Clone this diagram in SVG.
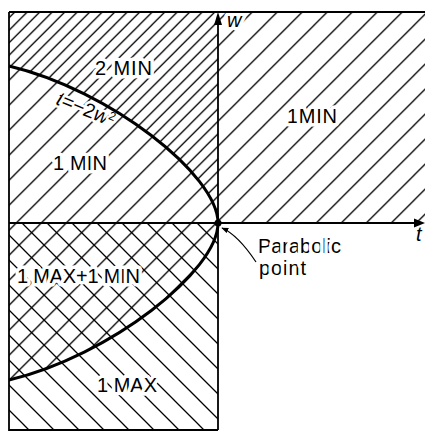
<svg xmlns="http://www.w3.org/2000/svg" width="425" height="432" viewBox="0 0 425 432">
<style>
.ln{stroke:#000;fill:none}
.lbl{font-family:"Liberation Sans",Arial,Helvetica,sans-serif;font-size:20px;fill:#000;stroke:#fff;stroke-width:7px;paint-order:stroke;stroke-linejoin:round}
.it{font-style:italic}
</style>
<defs>
<pattern id="fwd" patternUnits="userSpaceOnUse" x="14.3" y="0" width="25" height="25">
<path d="M-5,5 L5,-5 M0,25 L25,0 M20,30 L30,20" stroke="#000" stroke-width="1.3"/>
</pattern>
<pattern id="fwd2" patternUnits="userSpaceOnUse" x="1.8" y="0" width="25" height="25">
<path d="M-5,5 L5,-5 M0,25 L25,0 M20,30 L30,20" stroke="#000" stroke-width="1.3"/>
</pattern>
<pattern id="back" patternUnits="userSpaceOnUse" x="24" y="0" width="25" height="25">
<path d="M-5,20 L5,30 M0,0 L25,25 M20,-5 L30,5" stroke="#000" stroke-width="1.3"/>
</pattern>
<marker id="ah" viewBox="0 0 10 10" refX="9" refY="5" markerWidth="7" markerHeight="7" markerUnits="userSpaceOnUse" orient="auto">
<path d="M0,1 L10,5 L0,9 Z" fill="#000"/>
</marker>
</defs>
<rect width="425" height="432" fill="#fff"/>
<g id="regions">
<rect id="upper-min" x="9" y="12" width="416" height="211" fill="url(#fwd)"/>
<path id="two-min-extra" d="M9,12 H218 V223 C218,175 110,90 9,66 Z" fill="url(#fwd2)"/>
<rect id="lower-max" x="9" y="223" width="209" height="207" fill="url(#back)"/>
<path id="lower-min" d="M9,223 H218 C218,271 110,356 9,380 Z" fill="url(#fwd)"/>
</g>
<g id="labels">
<text class="lbl" x="95" y="75" textLength="57" lengthAdjust="spacing">2 MIN</text>
<text class="lbl" x="53" y="170" textLength="54" lengthAdjust="spacing">1 MIN</text>
<text class="lbl" x="287" y="123" textLength="50" lengthAdjust="spacing">1MIN</text>
<text class="lbl" x="17" y="283" textLength="123" lengthAdjust="spacing">1 MAX+1 MIN</text>
<text class="lbl" x="97" y="392" textLength="60" lengthAdjust="spacing">1 MAX</text>
<text class="lbl" x="258" y="253" font-size="18" textLength="83" lengthAdjust="spacing">Parabolic</text>
<text class="lbl" x="259" y="274.5" font-size="18" textLength="47" lengthAdjust="spacing">point</text>
<text class="lbl it" x="227" y="27" font-size="19">w</text>
<text class="lbl it" x="416" y="241">t</text>
<text class="lbl" x="55" y="104" font-size="17" style="stroke-width:5px" transform="rotate(22 55 104)"><tspan class="it">t</tspan>=−2<tspan class="it">w</tspan><tspan dy="-6" font-size="12">2</tspan></text>
</g>
<g id="frame" class="ln" stroke-width="1.8">
<path d="M9,12 H425 M9,12 V430 H218"/>
</g>
<g id="connectors">
<path id="w-axis" class="ln" stroke-width="1.8" d="M218,430 V20"/>
<polygon points="218,12 214,25 222,25" fill="#000"/>
<path id="t-axis" class="ln" stroke-width="1.8" d="M9,223 H418"/>
<polygon points="425,223 414,218.5 414,227.5" fill="#000"/>
<path id="curve" class="ln" stroke-width="3" d="M9,66 C110,90 218,175 218,223 C218,271 110,356 9,380"/>
<path id="leader" class="ln" stroke-width="1.2" d="M256,262 Q238,235 222,228" marker-end="url(#ah)"/>
<circle cx="218" cy="223" r="3.5" fill="#000"/>
</g>
</svg>
